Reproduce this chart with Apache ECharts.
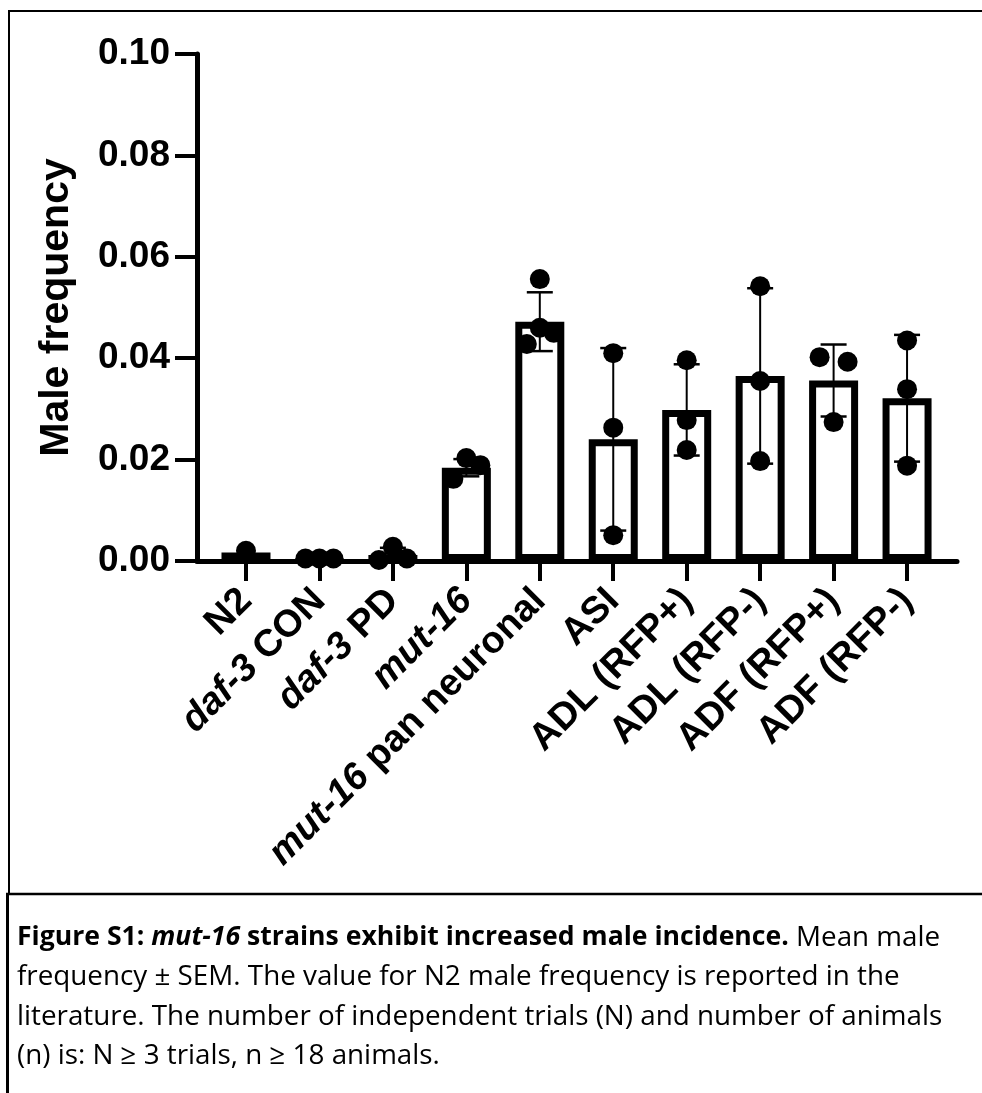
<!DOCTYPE html>
<html>
<head>
<meta charset="utf-8">
<script src="https://cdn.jsdelivr.net/npm/echarts@6/dist/echarts.min.js"></script>
<style>
html,body{margin:0;padding:0;background:#fff;}
#c{width:982px;height:1093px;}
</style>
</head>
<body>
<div id="c"></div>
<script>
// ---------------- DATA ----------------
const categories = ['N2', 'daf-3 CON', 'daf-3 PD', 'mut-16', 'mut-16 pan neuronal',
  'ASI', 'ADL (RFP+)', 'ADL (RFP-)', 'ADF (RFP+)', 'ADF (RFP-)'];
const meanValues  = [0.0017, 0.0005, 0.0012, 0.0184, 0.0472, 0.0240, 0.0298, 0.0365, 0.0356, 0.0321];
const errorValues = [0, 0, 0.0014, 0.0017, 0.0058, 0.0180, 0.0090, 0.0173, 0.0071, 0.0125];
const replicateValues = [
  [0.0020],
  [0.0005, 0.0005, 0.0005],
  [0.0002, 0.0028, 0.0005],
  [0.0162, 0.0203, 0.0189],
  [0.0556, 0.0460, 0.0450, 0.0428],
  [0.0410, 0.0263, 0.0051],
  [0.0396, 0.0278, 0.0219],
  [0.0542, 0.0355, 0.0197],
  [0.0402, 0.0393, 0.0274],
  [0.0435, 0.0339, 0.0188]
];
const yTickLabels = ['0.00', '0.02', '0.04', '0.06', '0.08', '0.10'];
const yAxisTitle = 'Male frequency';
const captionLines = [
  '{b|Figure S1: }{bi|mut-16}{b| strains exhibit increased male incidence.}{r| Mean male}',
  '{r|frequency ± SEM. The value for N2 male frequency is reported in the}',
  '{r|literature. The number of independent trials (N) and number of animals}',
  '{r|(n) is: N ≥ 3 trials, n ≥ 18 animals.}'
];

// ---------------- STYLE / LAYOUT ----------------
const dotJitterPx = [[0], [-14, 0, 14], [-14, 0, 14], [-13, 0, 14], [0, 0, 14, -13],
  [0, 0, 0], [0, 0, 0], [0, 0, 0], [-14, 14, 0], [0, 0, 0]];
const FONT = '"Liberation Sans", Arial, sans-serif';
const CAP_FONT = '"Open Sans", "Noto Sans", sans-serif';
const BAR_W = 49, BAR_BORDER = 7, CAP_HALF = 13;
const LBL_SIZE = 38;
const CAP_REG = 27.8, CAP_BOLD = 26.6;

const idx = categories.map((c, i) => i);

function labelRich(name) {
  const m = name.match(/^(daf-3|mut-16)(.*)$/);
  if (m) return '{i|' + m[1] + '}{n|' + m[2] + '}';
  return '{n|' + name + '}';
}

const chart = echarts.init(document.getElementById('c'), null, {renderer: 'canvas'});

const option = {
  animation: false,
  backgroundColor: '#fff',
  grid: {left: 197, right: 25, top: 54, bottom: 532, containLabel: false, outerBoundsMode: 'none'},
  xAxis: {
    type: 'value',
    min: -0.667, max: 9.68,
    splitLine: {show: false},
    axisLine: {show: true, onZero: false, lineStyle: {color: '#000', width: 5}},
    axisTick: {show: true, customValues: idx, length: 20, lineStyle: {color: '#000', width: 4}},
    axisLabel: {
      customValues: idx,
      rotate: 45,
      margin: 34,
      color: '#000',
      fontFamily: FONT,
      fontWeight: 'bold',
      fontSize: LBL_SIZE,
      formatter: v => labelRich(categories[Math.round(v)]),
      rich: {
        i: {fontFamily: FONT, fontWeight: 'bold', fontStyle: 'italic', fontSize: LBL_SIZE, color: '#000'},
        n: {fontFamily: FONT, fontWeight: 'bold', fontSize: LBL_SIZE, color: '#000'}
      }
    }
  },
  yAxis: {
    type: 'value',
    min: 0, max: 0.1, interval: 0.02,
    name: yAxisTitle,
    nameLocation: 'middle',
    nameGap: 120,
    nameTextStyle: {fontFamily: FONT, fontWeight: 'bold', fontSize: 41, color: '#000'},
    splitLine: {show: false},
    axisLine: {show: true, onZero: false, lineStyle: {color: '#000', width: 5}},
    axisTick: {show: true, length: 22, lineStyle: {color: '#000', width: 4}},
    axisLabel: {
      margin: 27, color: '#000', fontFamily: FONT, fontWeight: 'bold', fontSize: 37,
      formatter: v => yTickLabels[Math.round(v / 0.02)]
    }
  },
  series: [
    {
      type: 'custom',
      name: 'mean',
      z: 2,
      data: idx.map(i => [i, meanValues[i]]),
      encode: {x: 0, y: 1},
      renderItem: function (params, api) {
        const i = api.value(0), v = api.value(1);
        const top = api.coord([i, v]);
        const base = api.coord([i, 0]);
        const h = base[1] - top[1];
        if (h < BAR_BORDER) {
          return {type: 'rect', shape: {x: top[0] - BAR_W / 2, y: top[1], width: BAR_W, height: h},
            style: {fill: '#000'}};
        }
        return {
          type: 'rect',
          shape: {x: top[0] - BAR_W / 2 + BAR_BORDER / 2, y: top[1] + BAR_BORDER / 2,
                  width: BAR_W - BAR_BORDER, height: h - BAR_BORDER},
          style: {fill: '#fff', stroke: '#000', lineWidth: BAR_BORDER}
        };
      }
    },
    {
      type: 'custom',
      name: 'error',
      z: 3,
      data: idx.map(i => [i, meanValues[i], errorValues[i]]),
      encode: {x: 0, y: 1},
      renderItem: function (params, api) {
        const i = api.value(0), m = api.value(1), e = api.value(2);
        if (!e) return null;
        const hi = api.coord([i, m + e]);
        const lo = api.coord([i, m - e]);
        const st = {stroke: '#000', lineWidth: 2.5};
        return {
          type: 'group',
          children: [
            {type: 'line', shape: {x1: hi[0], y1: hi[1], x2: lo[0], y2: lo[1]}, style: {stroke: '#000', lineWidth: 2}},
            {type: 'line', shape: {x1: hi[0] - CAP_HALF, y1: hi[1], x2: hi[0] + CAP_HALF, y2: hi[1]}, style: st},
            {type: 'line', shape: {x1: lo[0] - CAP_HALF, y1: lo[1], x2: lo[0] + CAP_HALF, y2: lo[1]}, style: st}
          ]
        };
      }
    },
    {
      type: 'scatter',
      name: 'replicates',
      z: 4,
      symbol: 'circle',
      symbolSize: 20,
      itemStyle: {color: '#000', opacity: 1},
      emphasis: {disabled: true},
      data: replicateValues.flatMap((vals, i) => vals.map((v, k) => ({
        value: [i, v],
        symbolOffset: [dotJitterPx[i][k], 0]
      })))
    }
  ],
  graphic: [
    {type: 'line', shape: {x1: 9, y1: 11, x2: 982, y2: 11}, style: {stroke: '#000', lineWidth: 2}},
    {type: 'line', shape: {x1: 9, y1: 10, x2: 9, y2: 894}, style: {stroke: '#000', lineWidth: 2}},
    {type: 'line', shape: {x1: 6, y1: 894, x2: 982, y2: 894}, style: {stroke: '#000', lineWidth: 2.5}},
    {type: 'line', shape: {x1: 7.5, y1: 893, x2: 7.5, y2: 1093}, style: {stroke: '#000', lineWidth: 3}},
    {
      type: 'text',
      x: 17, y: 918,
      style: {
        text: captionLines.join('\n'),
        fill: '#000',
        font: CAP_REG + 'px ' + CAP_FONT,
        lineHeight: 39.5,
        rich: {
          b: {fontFamily: CAP_FONT, fontWeight: 'bold', fontSize: CAP_BOLD, lineHeight: 39.5, fill: '#000'},
          bi: {fontFamily: CAP_FONT, fontWeight: 'bold', fontStyle: 'italic', fontSize: CAP_BOLD, lineHeight: 39.5, fill: '#000'},
          r: {fontFamily: CAP_FONT, fontSize: CAP_REG, lineHeight: 39.5, fill: '#000'}
        }
      }
    }
  ]
};
chart.setOption(option);
</script>
</body>
</html>
